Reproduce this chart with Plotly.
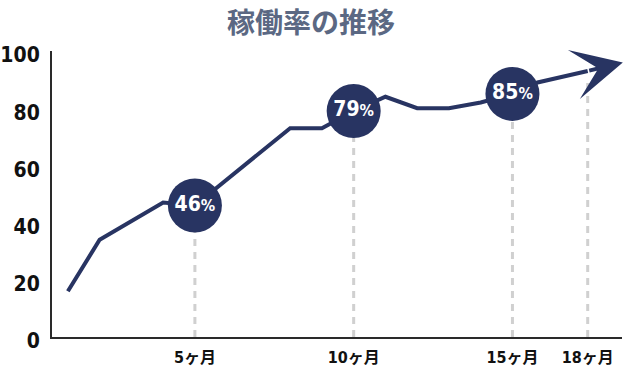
import plotly.graph_objects as go

# ---- data ----
title_text = "稼働率の推移"
line_months = [1, 2, 4, 5, 8, 9, 10, 11, 12, 13, 14, 15, 16, 17, 18, 19.4]
line_values = [16, 34, 47, 46, 73, 73, 79, 84, 80, 80, 82, 85, 89, 91, 93, 96]
milestone_months = [5, 10, 15]
milestone_values = [46, 79, 85]
milestone_labels = ["46", "79", "85"]
tick_months = [5, 10, 15, 18]
tick_labels = ["5ヶ月", "10ヶ月", "15ヶ月", "18ヶ月"]
y_ticks = [0, 20, 40, 60, 80, 100]

NAVY = "#283462"
GREY = "#d0d0d0"
NUM_FONT = "DejaVu Sans Condensed, DejaVu Sans, Noto Sans CJK JP"

W, H = 630, 370
M = dict(l=52, r=8, t=51, b=33)


def pos(m):
    # the chart compresses the horizontal scale after month 15
    return m if m <= 15 else 15 + (m - 15) * 0.79


def value_at(m):
    for i in range(len(line_months) - 1):
        a, b = line_months[i], line_months[i + 1]
        if a <= m <= b:
            t = (m - a) / (b - a)
            return line_values[i] + t * (line_values[i + 1] - line_values[i])
    return line_values[-1]


fig = go.Figure()

# dashed guide lines
for m in tick_months:
    top = value_at(m) if m in milestone_months else value_at(m) - 3.5
    fig.add_trace(go.Scatter(
        x=[pos(m), pos(m)], y=[0, top], mode="lines",
        line=dict(color=GREY, width=3, dash="7px,6px"),
        hoverinfo="skip", showlegend=False))

# main line (last segment drawn by the arrow annotation)
fig.add_trace(go.Scatter(
    x=[pos(m) for m in line_months[:-1]], y=line_values[:-1], mode="lines",
    line=dict(color=NAVY, width=4),
    cliponaxis=False, hoverinfo="skip", showlegend=False))

fig.add_annotation(
    x=pos(line_months[-1]), y=line_values[-1],
    ax=pos(line_months[-2]), ay=line_values[-2],
    xref="x", yref="y", axref="x", ayref="y",
    text="", showarrow=True, arrowhead=3, arrowsize=2.1, arrowwidth=4,
    arrowcolor=NAVY, standoff=0, startstandoff=0)

# milestone circles
fig.add_trace(go.Scatter(
    x=[pos(m) for m in milestone_months], y=milestone_values,
    mode="markers+text",
    marker=dict(size=54, color=NAVY, line=dict(width=0)),
    text=[f"{t}<span style='font-size:16px'>%</span>" for t in milestone_labels],
    textposition="middle center",
    textfont=dict(color="white", size=21, family=NUM_FONT, weight="bold"),
    cliponaxis=False, hoverinfo="skip", showlegend=False))

# title as a top-anchored annotation
plot_w = W - M["l"] - M["r"]
plot_h = H - M["t"] - M["b"]
fig.add_annotation(
    text=title_text, showarrow=False,
    xref="paper", yref="paper",
    x=(311 - M["l"]) / plot_w, xanchor="center",
    y=1 + M["t"] / plot_h, yanchor="top", borderpad=0,
    font=dict(family="Noto Sans CJK JP", size=28, color="#5b6883",
              weight="bold"))

fig.update_layout(
    width=W, height=H,
    margin=M,
    paper_bgcolor="white", plot_bgcolor="white",
    xaxis=dict(range=[0.5, 18.45], showgrid=False, zeroline=False,
               showline=True, linecolor="#2a2a2a", linewidth=2,
               tickvals=[pos(m) for m in tick_months], ticktext=tick_labels,
               ticks="", ticklabelstandoff=5, automargin=False,
               tickfont=dict(family=NUM_FONT, size=16, color="#111",
                             weight="bold")),
    yaxis=dict(range=[0, 100], showgrid=False, zeroline=False,
               showline=True, linecolor="#2a2a2a", linewidth=2,
               tickvals=y_ticks, ticks="", ticklabelstandoff=6,
               ticklabelshift=4, automargin=False,
               tickfont=dict(family=NUM_FONT, size=21, color="#111",
                             weight="bold")),
)

fig.write_html("out.html")
